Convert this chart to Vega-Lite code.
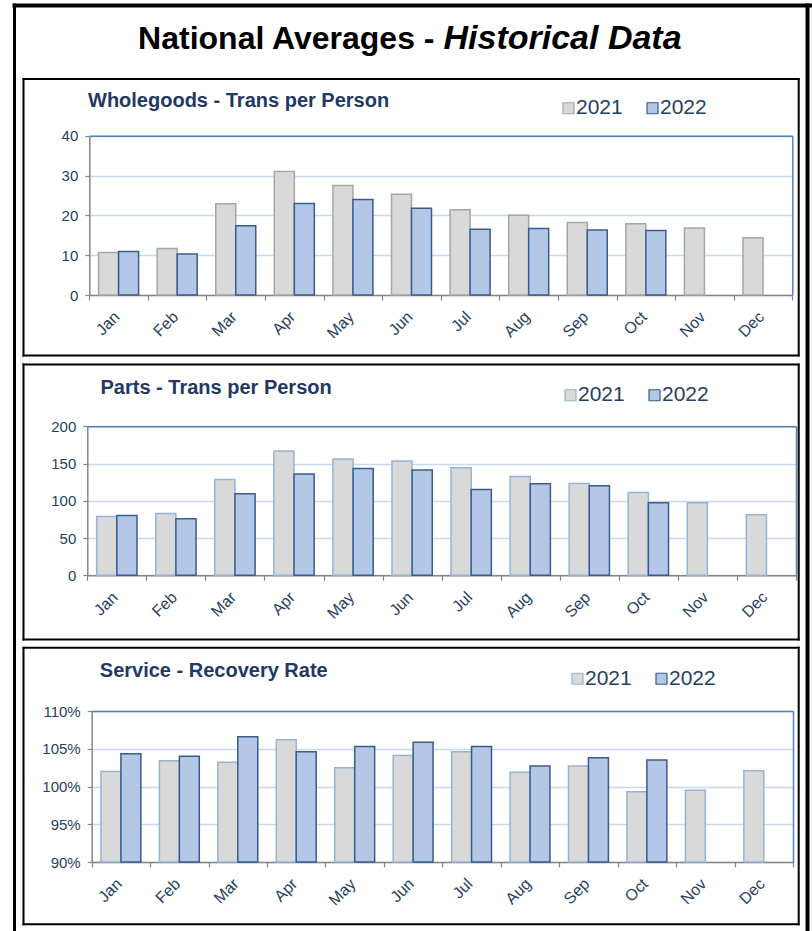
{
  "$schema": "https://vega.github.io/schema/vega-lite/v6.json",
  "width": 812,
  "height": 931,
  "autosize": {"type": "none"},
  "padding": 0,
  "config": {
    "font": "Liberation Sans",
    "view": {"stroke": null},
    "axis": {"labelFont": "Liberation Sans", "labelColor": "#243F60", "labelFontSize": 15, "title": null, "domainColor": "#868686", "tickColor": "#868686", "domainWidth": 1.5, "tickWidth": 1.2, "tickSize": 4.5, "titleFont": "Liberation Sans", "labels": false, "ticks": false, "grid": false},
    "legend": {"labelFont": "Liberation Sans", "labelColor": "#243F60", "labelFontSize": 21, "padding": 0, "orient": "none", "direction": "horizontal", "title": null, "symbolType": "square", "symbolSize": 121, "symbolStrokeWidth": 1.2, "labelOffset": -3, "columnPadding": 19}
  },
  "datasets": {
    "whole": [
      {"month": "Jan", "year": "2021", "value": 10.7}, {"month": "Jan", "year": "2022", "value": 10.9},
      {"month": "Feb", "year": "2021", "value": 11.7}, {"month": "Feb", "year": "2022", "value": 10.3},
      {"month": "Mar", "year": "2021", "value": 22.9}, {"month": "Mar", "year": "2022", "value": 17.4},
      {"month": "Apr", "year": "2021", "value": 31.0}, {"month": "Apr", "year": "2022", "value": 23.0},
      {"month": "May", "year": "2021", "value": 27.5}, {"month": "May", "year": "2022", "value": 24.0},
      {"month": "Jun", "year": "2021", "value": 25.3}, {"month": "Jun", "year": "2022", "value": 21.8},
      {"month": "Jul", "year": "2021", "value": 21.4}, {"month": "Jul", "year": "2022", "value": 16.5},
      {"month": "Aug", "year": "2021", "value": 20.0}, {"month": "Aug", "year": "2022", "value": 16.7},
      {"month": "Sep", "year": "2021", "value": 18.2}, {"month": "Sep", "year": "2022", "value": 16.3},
      {"month": "Oct", "year": "2021", "value": 17.9}, {"month": "Oct", "year": "2022", "value": 16.2},
      {"month": "Nov", "year": "2021", "value": 16.8},
      {"month": "Dec", "year": "2021", "value": 14.4}
    ],
    "parts": [
      {"month": "Jan", "year": "2021", "value": 78.9}, {"month": "Jan", "year": "2022", "value": 80.3},
      {"month": "Feb", "year": "2021", "value": 83.0}, {"month": "Feb", "year": "2022", "value": 75.8},
      {"month": "Mar", "year": "2021", "value": 128.7}, {"month": "Mar", "year": "2022", "value": 109.4},
      {"month": "Apr", "year": "2021", "value": 166.8}, {"month": "Apr", "year": "2022", "value": 135.9},
      {"month": "May", "year": "2021", "value": 156.1}, {"month": "May", "year": "2022", "value": 143.5},
      {"month": "Jun", "year": "2021", "value": 153.4}, {"month": "Jun", "year": "2022", "value": 141.3},
      {"month": "Jul", "year": "2021", "value": 144.4}, {"month": "Jul", "year": "2022", "value": 115.2},
      {"month": "Aug", "year": "2021", "value": 132.7}, {"month": "Aug", "year": "2022", "value": 122.9},
      {"month": "Sep", "year": "2021", "value": 123.3}, {"month": "Sep", "year": "2022", "value": 120.2},
      {"month": "Oct", "year": "2021", "value": 111.2}, {"month": "Oct", "year": "2022", "value": 97.3},
      {"month": "Nov", "year": "2021", "value": 97.3},
      {"month": "Dec", "year": "2021", "value": 81.2}
    ],
    "service": [
      {"month": "Jan", "year": "2021", "value": 1.020}, {"month": "Jan", "year": "2022", "value": 1.0435},
      {"month": "Feb", "year": "2021", "value": 1.034}, {"month": "Feb", "year": "2022", "value": 1.040},
      {"month": "Mar", "year": "2021", "value": 1.032}, {"month": "Mar", "year": "2022", "value": 1.066},
      {"month": "Apr", "year": "2021", "value": 1.062}, {"month": "Apr", "year": "2022", "value": 1.046},
      {"month": "May", "year": "2021", "value": 1.025}, {"month": "May", "year": "2022", "value": 1.053},
      {"month": "Jun", "year": "2021", "value": 1.041}, {"month": "Jun", "year": "2022", "value": 1.0585},
      {"month": "Jul", "year": "2021", "value": 1.046}, {"month": "Jul", "year": "2022", "value": 1.053},
      {"month": "Aug", "year": "2021", "value": 1.019}, {"month": "Aug", "year": "2022", "value": 1.027},
      {"month": "Sep", "year": "2021", "value": 1.027}, {"month": "Sep", "year": "2022", "value": 1.038},
      {"month": "Oct", "year": "2021", "value": 0.993}, {"month": "Oct", "year": "2022", "value": 1.035},
      {"month": "Nov", "year": "2021", "value": 0.995},
      {"month": "Dec", "year": "2021", "value": 1.021}
    ]
  },
  "layer": [
    {
      "data": {"name": "whole"},
      "mark": {"type": "bar", "strokeWidth": 1.5},
      "encoding": {
        "x": {"field": "month", "type": "ordinal", "sort": ["Jan","Feb","Mar","Apr","May","Jun","Jul","Aug","Sep","Oct","Nov","Dec"],
              "scale": {"range": [89.3, 792.3], "paddingInner": 0, "paddingOuter": 0},
              "axis": {"orient": "bottom", "offset": -636, "ticks": true, "labels": true, "tickSize": 5, "tickBand": "extent", "labelAngle": -45, "labelAlign": "right", "labelBaseline": "middle", "labelPadding": 14, "labelOffset": -2, "labelFontSize": 16}},
        "xOffset": {"field": "year", "type": "nominal", "scale": {"domain": ["2021","2022"], "paddingOuter": 0.465, "paddingInner": 0}},
        "y": {"field": "value", "type": "quantitative", "scale": {"domain": [0, 40], "range": [295, 135.7], "nice": false},
              "axis": {"orient": "left", "offset": -89.3, "values": [0,10,20,30,40], "ticks": true, "labels": true, "grid": true, "gridColor": "#C6D9F1", "gridWidth": 1.5, "labelPadding": 7}},
        "y2": {"datum": 0},
        "fill": {"field": "year", "type": "nominal", "scale": {"domain": ["2021","2022"], "range": ["#D9D9D9", "#B4C7E7"]},
                 "legend": {"legendX": 558, "legendY": 97.5}},
        "stroke": {"field": "year", "type": "nominal", "scale": {"domain": ["2021","2022"], "range": ["#A6A6A6", "#385D8A"]},
                 "legend": {"legendX": 558, "legendY": 97.5}}
      }
    },
    {
      "data": {"name": "whole"},
      "mark": {"type": "bar", "opacity": 0},
      "encoding": {
        "x": {"field": "month", "type": "ordinal", "scale": {"range": [89.3, 792.3], "paddingInner": 0, "paddingOuter": 0},
              "axis": {"orient": "top", "offset": -135.7, "domainColor": "#4F81BD"}},
        "y": {"field": "value", "type": "quantitative", "scale": {"domain": [0, 40], "range": [295, 135.7], "nice": false},
              "axis": {"orient": "right", "offset": -19.7, "domainColor": "#4F81BD"}}
      }
    },
    {
      "data": {"name": "whole"},
      "mark": {"type": "bar", "opacity": 0},
      "encoding": {
        "x": {"field": "month", "type": "ordinal", "scale": {"range": [22, 799.2], "paddingInner": 0, "paddingOuter": 0},
              "axis": {"orient": "top", "offset": -78.5, "domainColor": "#000000", "domainWidth": 2,
                       "title": "Wholegoods - Trans per Person", "titleAlign": "left", "titleBaseline": "alphabetic", "titleX": 87.5, "titleY": 27.5, "titleFontSize": 20, "titleFontWeight": "bold", "titleColor": "#1F3864"}},
        "y": {"field": "value", "type": "quantitative", "scale": {"domain": [0, 40], "range": [356, 77.5], "nice": false},
              "axis": {"orient": "left", "offset": -23, "domainColor": "#000000", "domainWidth": 2}}
      }
    },
    {
      "data": {"name": "whole"},
      "mark": {"type": "bar", "opacity": 0},
      "encoding": {
        "x": {"field": "month", "type": "ordinal", "scale": {"range": [22, 799.2], "paddingInner": 0, "paddingOuter": 0},
              "axis": {"orient": "bottom", "offset": -576, "domainColor": "#000000", "domainWidth": 2}},
        "y": {"field": "value", "type": "quantitative", "scale": {"domain": [0, 40], "range": [356, 77.5], "nice": false},
              "axis": {"orient": "right", "offset": -13.8, "domainColor": "#000000", "domainWidth": 2}}
      }
    },
    {
      "data": {"name": "parts"},
      "mark": {"type": "bar", "strokeWidth": 1.5},
      "encoding": {
        "x": {"field": "month", "type": "ordinal", "sort": ["Jan","Feb","Mar","Apr","May","Jun","Jul","Aug","Sep","Oct","Nov","Dec"],
              "scale": {"range": [87.3, 796], "paddingInner": 0, "paddingOuter": 0},
              "axis": {"orient": "bottom", "offset": -355.7, "ticks": true, "labels": true, "tickSize": 5, "tickBand": "extent", "labelAngle": -45, "labelAlign": "right", "labelBaseline": "middle", "labelPadding": 14, "labelOffset": -2, "labelFontSize": 16}},
        "xOffset": {"field": "year", "type": "nominal", "scale": {"domain": ["2021","2022"], "paddingOuter": 0.465, "paddingInner": 0}},
        "y": {"field": "value", "type": "quantitative", "scale": {"domain": [0, 200], "range": [575.3, 426.3], "nice": false},
              "axis": {"orient": "left", "offset": -87.3, "values": [0,50,100,150,200], "ticks": true, "labels": true, "grid": true, "gridColor": "#C6D9F1", "gridWidth": 1.5, "labelPadding": 7}},
        "y2": {"datum": 0},
        "fill": {"field": "year", "type": "nominal", "scale": {"domain": ["2021","2022"], "range": ["#D9D9D9", "#B4C7E7"]},
                 "legend": {"legendX": 560, "legendY": 384.5}},
        "stroke": {"field": "year", "type": "nominal", "scale": {"domain": ["2021","2022"], "range": ["#95B3D7", "#385D8A"]},
                 "legend": {"legendX": 560, "legendY": 384.5}}
      }
    },
    {
      "data": {"name": "parts"},
      "mark": {"type": "bar", "opacity": 0},
      "encoding": {
        "x": {"field": "month", "type": "ordinal", "scale": {"range": [87.3, 796], "paddingInner": 0, "paddingOuter": 0},
              "axis": {"orient": "top", "offset": -426.3, "domainColor": "#4F81BD"}},
        "y": {"field": "value", "type": "quantitative", "scale": {"domain": [0, 200], "range": [575.3, 426.3], "nice": false},
              "axis": {"orient": "right", "offset": -16, "domainColor": "#4F81BD"}}
      }
    },
    {
      "data": {"name": "parts"},
      "mark": {"type": "bar", "opacity": 0},
      "encoding": {
        "x": {"field": "month", "type": "ordinal", "scale": {"range": [22, 799.2], "paddingInner": 0, "paddingOuter": 0},
              "axis": {"orient": "top", "offset": -364, "domainColor": "#000000", "domainWidth": 2,
                       "title": "Parts - Trans per Person", "titleAlign": "left", "titleBaseline": "alphabetic", "titleX": 100, "titleY": 29.3, "titleFontSize": 20, "titleFontWeight": "bold", "titleColor": "#1F3864"}},
        "y": {"field": "value", "type": "quantitative", "scale": {"domain": [0, 200], "range": [640, 363], "nice": false},
              "axis": {"orient": "left", "offset": -23, "domainColor": "#000000", "domainWidth": 2}}
      }
    },
    {
      "data": {"name": "parts"},
      "mark": {"type": "bar", "opacity": 0},
      "encoding": {
        "x": {"field": "month", "type": "ordinal", "scale": {"range": [22, 799.2], "paddingInner": 0, "paddingOuter": 0},
              "axis": {"orient": "bottom", "offset": -292, "domainColor": "#000000", "domainWidth": 2}},
        "y": {"field": "value", "type": "quantitative", "scale": {"domain": [0, 200], "range": [640, 363], "nice": false},
              "axis": {"orient": "right", "offset": -13.8, "domainColor": "#000000", "domainWidth": 2}}
      }
    },
    {
      "data": {"name": "service"},
      "mark": {"type": "bar", "strokeWidth": 1.5},
      "encoding": {
        "x": {"field": "month", "type": "ordinal", "sort": ["Jan","Feb","Mar","Apr","May","Jun","Jul","Aug","Sep","Oct","Nov","Dec"],
              "scale": {"range": [91.7, 793], "paddingInner": 0, "paddingOuter": 0},
              "axis": {"orient": "bottom", "offset": -69, "ticks": true, "labels": true, "tickSize": 5, "tickBand": "extent", "labelAngle": -45, "labelAlign": "right", "labelBaseline": "middle", "labelPadding": 14, "labelOffset": -2, "labelFontSize": 16}},
        "xOffset": {"field": "year", "type": "nominal", "scale": {"domain": ["2021","2022"], "paddingOuter": 0.465, "paddingInner": 0}},
        "y": {"field": "value", "type": "quantitative", "scale": {"domain": [0.9, 1.1], "range": [862, 711], "nice": false, "zero": false},
              "axis": {"orient": "left", "offset": -91.7, "values": [0.9,0.95,1,1.05,1.1], "format": ".0%", "ticks": true, "labels": true, "grid": true, "gridColor": "#C6D9F1", "gridWidth": 1.5, "labelPadding": 7}},
        "y2": {"datum": 0.9},
        "fill": {"field": "year", "type": "nominal", "scale": {"domain": ["2021","2022"], "range": ["#D9D9D9", "#B4C7E7"]},
                 "legend": {"legendX": 567, "legendY": 668}},
        "stroke": {"field": "year", "type": "nominal", "scale": {"domain": ["2021","2022"], "range": ["#95B3D7", "#385D8A"]},
                 "legend": {"legendX": 567, "legendY": 668}}
      }
    },
    {
      "data": {"name": "service"},
      "mark": {"type": "bar", "opacity": 0},
      "encoding": {
        "x": {"field": "month", "type": "ordinal", "scale": {"range": [91.7, 793], "paddingInner": 0, "paddingOuter": 0},
              "axis": {"orient": "top", "offset": -711, "domainColor": "#4F81BD"}},
        "y": {"field": "value", "type": "quantitative", "scale": {"domain": [0.9, 1.1], "range": [862, 711], "nice": false, "zero": false},
              "axis": {"orient": "right", "offset": -19, "domainColor": "#4F81BD"}},
        "y2": {"datum": 0.9}
      }
    },
    {
      "data": {"name": "service"},
      "mark": {"type": "bar", "opacity": 0},
      "encoding": {
        "x": {"field": "month", "type": "ordinal", "scale": {"range": [22, 799.2], "paddingInner": 0, "paddingOuter": 0},
              "axis": {"orient": "top", "offset": -647.3, "domainColor": "#000000", "domainWidth": 2,
                       "title": "Service - Recovery Rate", "titleAlign": "left", "titleBaseline": "alphabetic", "titleX": 99.3, "titleY": 29.5, "titleFontSize": 20, "titleFontWeight": "bold", "titleColor": "#1F3864"}},
        "y": {"field": "value", "type": "quantitative", "scale": {"domain": [0.9, 1.1], "range": [924.7, 646.3], "nice": false, "zero": false},
              "axis": {"orient": "left", "offset": -23, "domainColor": "#000000", "domainWidth": 2}},
        "y2": {"datum": 0.9}
      }
    },
    {
      "data": {"name": "service"},
      "mark": {"type": "bar", "opacity": 0},
      "encoding": {
        "x": {"field": "month", "type": "ordinal", "scale": {"range": [22, 799.2], "paddingInner": 0, "paddingOuter": 0},
              "axis": {"orient": "bottom", "offset": -7.3, "domainColor": "#000000", "domainWidth": 2}},
        "y": {"field": "value", "type": "quantitative", "scale": {"domain": [0.9, 1.1], "range": [924.7, 646.3], "nice": false, "zero": false},
              "axis": {"orient": "right", "offset": -13.8, "domainColor": "#000000", "domainWidth": 2}},
        "y2": {"datum": 0.9}
      }
    },
    {
      "data": {"name": "whole"},
      "mark": {"type": "bar", "opacity": 0},
      "encoding": {
        "x": {"field": "month", "type": "ordinal", "scale": {"range": [12, 812], "paddingInner": 0, "paddingOuter": 0},
              "axis": {"orient": "top", "offset": -5, "domainColor": "#000000", "domainWidth": 4,
                       "title": "National Averages -", "titleAlign": "right", "titleBaseline": "alphabetic", "titleX": 434, "titleY": 43.3, "titleFontSize": 32, "titleFontWeight": "bold", "titleColor": "#000000"}},
        "y": {"field": "value", "type": "quantitative", "scale": {"domain": [0, 40], "range": [931, 3], "nice": false},
              "axis": {"orient": "left", "offset": -14, "domainColor": "#000000", "domainWidth": 3,
                       "title": "Historical Data", "titleAngle": 0, "titleAlign": "left", "titleBaseline": "alphabetic", "titleX": 429, "titleY": 48.3, "titleFontSize": 34, "titleFontWeight": "bold", "titleFontStyle": "italic", "titleColor": "#000000"}}
      }
    },
    {
      "data": {"name": "whole"},
      "mark": {"type": "bar", "opacity": 0},
      "encoding": {
        "x": {"field": "month", "type": "ordinal", "scale": {"range": [12, 812], "paddingInner": 0, "paddingOuter": 0}, "axis": null},
        "y": {"field": "value", "type": "quantitative", "scale": {"domain": [0, 40], "range": [931, 3], "nice": false},
              "axis": {"orient": "right", "offset": -5, "domainColor": "#000000", "domainWidth": 4}}
      }
    }
  ],
  "resolve": {
    "scale": {"x": "independent", "y": "independent", "xOffset": "independent", "fill": "independent", "stroke": "independent"},
    "axis": {"x": "independent", "y": "independent"},
    "legend": {"fill": "independent", "stroke": "independent"}
  }
}
